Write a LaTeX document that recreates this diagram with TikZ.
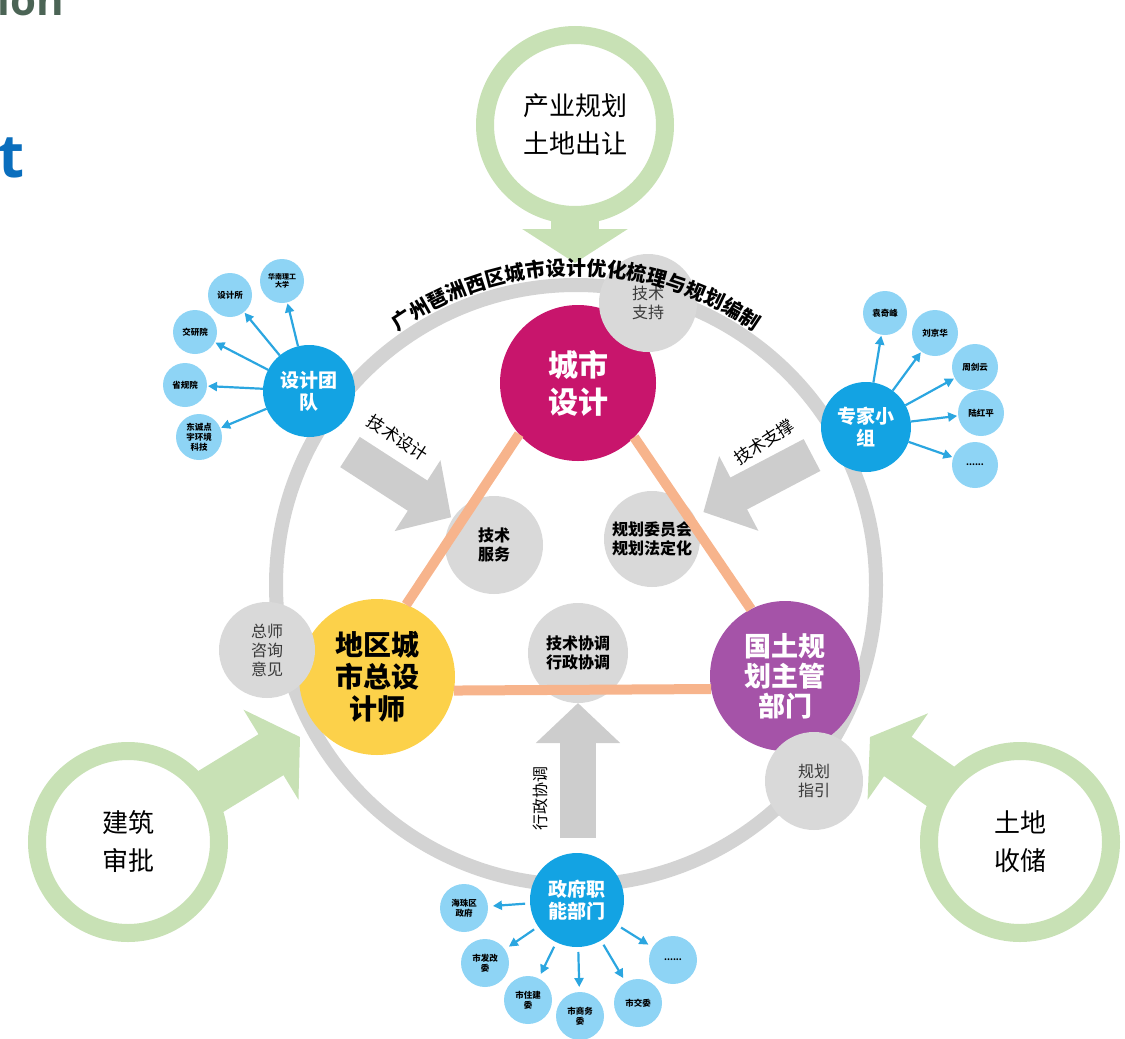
\documentclass[tikz,border=0pt]{standalone}
\usepackage{fontspec}
\setmainfont{Noto Sans CJK SC}
\newfontfamily\latinsans{Open Sans}
\usetikzlibrary{arrows.meta,decorations.text,calc}
\definecolor{ringgray}{HTML}{D3D3D3}
\definecolor{cgray}{HTML}{D9D9D9}
\definecolor{agray}{HTML}{CDCDCD}
\definecolor{grn}{HTML}{C8E1B5}
\definecolor{org}{HTML}{F7B48C}
\definecolor{mag}{HTML}{C8156C}
\definecolor{yel}{HTML}{FCD14A}
\definecolor{pur}{HTML}{A553A8}
\definecolor{blu}{HTML}{13A3E3}
\definecolor{lblu}{HTML}{8ED4F5}
\definecolor{arrblu}{HTML}{2BA6E0}
\definecolor{darktext}{HTML}{3A3A3A}
\definecolor{titlegray}{HTML}{4B6455}
\definecolor{titleblue}{HTML}{0A6EBD}
\newcommand\myfs[2]{\fontsize{#1}{#2}\selectfont}
\tikzset{
 gring/.style={circle, draw=grn, line width=18pt, fill=white, minimum size=180pt, inner sep=0pt, outer sep=0pt, align=center, font=\myfs{26}{38}},
 garrow/.style={draw=grn, line width=48pt, -{Triangle[length=34pt,width=104pt]}},
 gyarrow/.style={draw=agray, line width=36pt, -{Triangle[length=40pt,width=82pt]}},
 bigring/.style={circle, draw=ringgray, line width=14pt, minimum size=600pt, inner sep=0pt},
 maincirc/.style={circle, inner sep=0pt, outer sep=0pt, align=center},
 gcirc/.style={circle, fill=cgray, inner sep=0pt, outer sep=0pt, align=center, minimum size=98pt},
 gbold/.style={gcirc, font=\bfseries\myfs{16}{19}},
 greg/.style={gcirc, font=\myfs{16}{19}, text=darktext},
 oline/.style={draw=org, line width=10pt},
 bbig/.style={circle, fill=blu, text=white, font=\bfseries\myfs{19}{22}, minimum size=92pt, inner sep=0pt, outer sep=0pt, align=center},
 bsat/.style={circle, fill=lblu, font=\bfseries\myfs{8.5}{10}, minimum size=46pt, inner sep=0pt, outer sep=0pt, align=center},
 barrow/.style={draw=arrblu, line width=2.2pt, -{Triangle[length=9pt,width=9pt]}},
 lbl/.style={font=\myfs{17}{17}, fill=white, inner sep=1pt},
}
\begin{document}
\begin{tikzpicture}[x=1pt,y=-1pt]
\useasboundingbox (0,0) rectangle (1125,1039);
\clip (0,0) rectangle (1125,1039);

% partial heading texts at the left edge
\node[anchor=base east, text=titlegray, font=\latinsans\bfseries\myfs{42}{42}, inner sep=0pt] (hd1) at (64,15) {tion};
\node[anchor=base west, text=titleblue, font=\latinsans\bfseries\myfs{60}{60}, inner sep=0pt] (hd2) at (-2,177) {t};

% green input rings and arrows
\node[gring] (top) at (575,125) {产业规划\\土地出让};
\node[gring, minimum size=182pt] (lring) at (128,842) {建筑\\审批};
\node[gring, minimum size=182pt] (rring) at (1020,842) {土地\\收储};
\coordinate (toptip) at (575,263);
\coordinate (ltip) at (300,737);
\coordinate (rtip) at (870,737);
\draw[garrow] ($(top.center)!86pt!(toptip)$) -- (toptip);
\draw[garrow] ($(lring.center)!88pt!(ltip)$) -- (ltip);
\draw[garrow] ($(rring.center)!88pt!(rtip)$) -- (rtip);

% big gray ring
\node[bigring] (ring) at (576,585) {};

% center gray circles
\node[gbold] (jsfw) at (494,545) {技术\\服务};
\node[gbold, minimum size=96pt] (ghwy) at (652,539) {规划委员会\\规划法定化};
\node[gbold, minimum size=100pt] (jsxt) at (578,653) {技术协调\\行政协调};

% gray block arrows
\coordinate (a1) at (350,452);
\coordinate (a2) at (812,455);
\coordinate (a3) at (578,838);
\draw[gyarrow, shorten >=2pt] (a1) -- (jsfw);
\draw[gyarrow, shorten >=10pt] (a2) -- (ghwy);
\draw[gyarrow] (a3) -- (jsxt);
\node[lbl, rotate=-33] (l1) at (398,438) {技术设计};
\node[lbl, rotate=33] (l2) at (764,442) {技术支撑};
\node[font=\myfs{16}{16}, rotate=90] (l3) at (540,798) {行政协调};

% main circles
\node[maincirc, fill=mag, minimum size=156pt, text=white, font=\bfseries\myfs{30}{37}] (cs) at (578,383) {城市\\设计};
\node[maincirc, fill=yel, minimum size=156pt, text=black, font=\bfseries\myfs{28}{32}] (dq) at (377,677) {地区城\\市总设\\计师};
\node[maincirc, fill=pur, minimum size=150pt, text=white, font=\bfseries\myfs{27}{30}] (gt) at (785,676) {国土规\\划主管\\部门};

% orange triangle
\draw[oline] (cs.221) -- (dq.68);
\draw[oline] (cs.316) -- (gt.117);
\draw[oline] (dq.-10) -- (gt.190);

% gray satellite circles
\node[greg] (jszc) at (648,303) {技术\\支持};
\node[greg, minimum size=96pt] (zszx) at (267,650) {总师\\咨询\\意见};
\node[greg] (ghzy) at (814,781) {规划\\指引};

% design team cluster
\node[bbig] (sjtd) at (309,391) {设计团\\队};
\node[bsat, minimum size=44pt, font=\bfseries\myfs{7}{8}] (s1) at (282,281) {华南理工\\大学};
\node[bsat, minimum size=44pt] (s2) at (230,295) {设计所};
\node[bsat, minimum size=44pt] (s3) at (195,332) {交研院};
\node[bsat, minimum size=44pt] (s4) at (185,385) {省规院};
\node[bsat] (s5) at (199,437) {东诚点\\宇环境\\科技};
\foreach \s in {s1,s2,s3,s4,s5} \draw[barrow, shorten >=1pt] (sjtd) -- (\s);

% expert group cluster
\node[bbig, minimum size=90pt] (zjxz) at (866,427) {专家小\\组};
\node[bsat, minimum size=44pt] (e1) at (885,313) {袁奇峰};
\node[bsat] (e2) at (935,333) {刘京华};
\node[bsat] (e3) at (975,367) {周剑云};
\node[bsat] (e4) at (981,413) {陆红平};
\node[bsat] (e5) at (975,465) {......};
\foreach \s in {e1,e2,e3,e4,e5} \draw[barrow, shorten >=1pt] (zjxz) -- (\s);

% government cluster
\node[bbig, minimum size=94pt] (zfzn) at (577,900) {政府职\\能部门};
\node[bsat, minimum size=48pt] (g1) at (464,908) {海珠区\\政府};
\node[bsat, minimum size=48pt] (g2) at (485,963) {市发改\\委};
\node[bsat, minimum size=48pt] (g3) at (528,1000) {市住建\\委};
\node[bsat, minimum size=48pt] (g4) at (580,1016) {市商务\\委};
\node[bsat, minimum size=48pt] (g5) at (638,1003) {市交委};
\node[bsat, minimum size=48pt] (g6) at (673,960) {......};
\foreach \s in {g1,g2,g3,g4,g5,g6} \draw[barrow, shorten <=5pt, shorten >=5pt] (zfzn) -- (\s);

% curved title
\path[decorate, decoration={text along path, text align=center,
  text={|\bfseries\myfs{20}{20}|广州琶洲西区城市设计优化梳理与规划编制}}]
  ($(ring.center)+(233:310)$) arc[start angle=233, end angle=307, radius=310];
\end{tikzpicture}
\end{document}
